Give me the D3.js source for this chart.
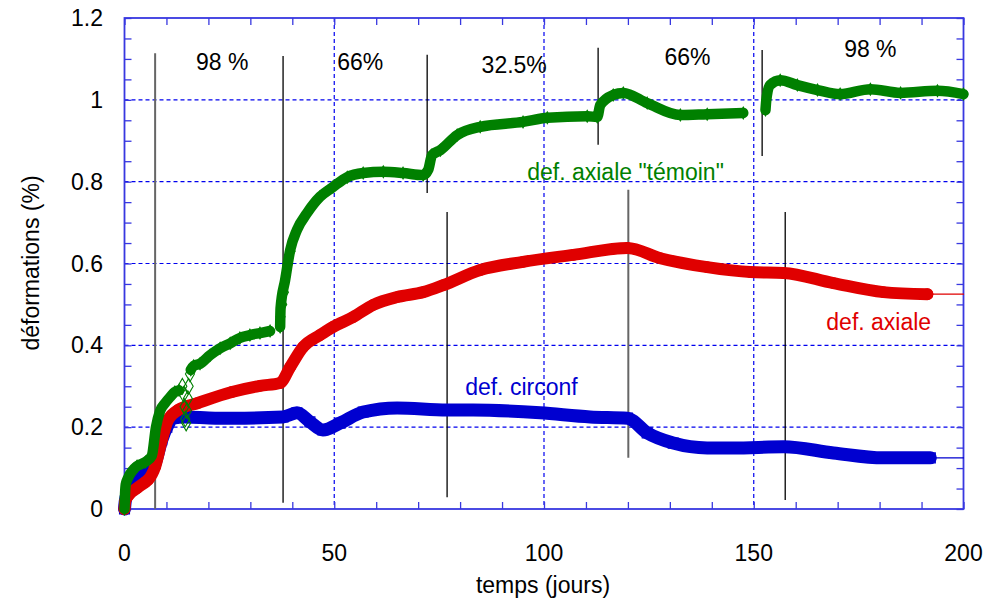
<!DOCTYPE html>
<html><head><meta charset="utf-8">
<script src="https://cdn.jsdelivr.net/npm/d3@7/dist/d3.min.js"></script>
<style>
html,body{margin:0;padding:0;background:#fff;}
text{font-family:"Liberation Sans",Arial,sans-serif;}
</style></head>
<body><svg id="c" width="987" height="599"></svg>
<script>
// ---- data (days, strain %) ----
const xTicks = [0, 50, 100, 150, 200];
const yTicks = [0, 0.2, 0.4, 0.6, 0.8, 1, 1.2];
const yTickLabels = ["0", "0.2", "0.4", "0.6", "0.8", "1", "1.2"];

const greenSeg1a = [[0,0.0],[0.1,0.03],[0.3,0.06],[0.8,0.075],[2,0.095],[3,0.105],[5,0.115],[6.5,0.13],[7.5,0.2],[8.5,0.24],[9.7,0.259],[11,0.275],[12,0.286],[13,0.29]];
const greenSparse = [[13.8,0.3],[14.1,0.28],[14.3,0.25],[14.5,0.22],[14.7,0.21],[14.9,0.24],[15.1,0.27],[15.3,0.3],[15.6,0.33],[37.2,0.47],[37.6,0.5],[38,0.53],[38.5,0.57],[39,0.6],[39.6,0.63]];
const greenSeg1b = [[15.8,0.34],[16.5,0.35],[18,0.355],[20.4,0.376],[22.8,0.393],[25.2,0.405],[27.5,0.418],[29.9,0.425],[32.3,0.43],[34.7,0.435]];
const greenSeg2 = [[37.1,0.445],[37.2,0.49],[38.3,0.56],[39.5,0.633],[41.1,0.682],[43.5,0.723],[46.6,0.763],[49.7,0.787],[53.1,0.811],[56.9,0.821],[61.7,0.824],[66.4,0.821],[71.2,0.816],[72.4,0.829],[73.3,0.865],[75.3,0.877],[79.3,0.914],[84.8,0.934],[95,0.946],[100.8,0.956],[110.3,0.96],[112.7,0.958],[113.4,0.987],[116.5,1.012],[118.9,1.017],[124.6,0.992],[132.5,0.963],[138.9,0.965],[147.5,0.968]];
const greenSeg3 = [[152.8,0.975],[153,1.0],[153.9,1.036],[156.3,1.048],[160.4,1.036],[165.2,1.024],[170.6,1.014],[177.8,1.026],[185,1.017],[193.8,1.022],[200,1.014]];

const redSeries = [[0,0.0],[0.2,0.02],[1,0.034],[3,0.051],[5,0.066],[5.6,0.071],[7.3,0.103],[8.9,0.169],[10.4,0.218],[12.8,0.242],[17.5,0.259],[25.6,0.286],[32.3,0.301],[37.1,0.308],[39.5,0.347],[42.6,0.396],[46.6,0.425],[49.7,0.445],[54.5,0.469],[59.3,0.499],[65,0.518],[71.2,0.53],[76,0.547],[84.8,0.584],[95,0.604],[107,0.621],[119.9,0.638],[127.7,0.613],[138.9,0.591],[149.2,0.579],[157.1,0.577],[169,0.552],[180.9,0.53],[191.4,0.525]];
const redTail = [[191.4,0.525],[200,0.525]];

const blueSeries = [[0,0.0],[0.2,0.02],[1,0.046],[2.5,0.078],[5.6,0.09],[7.3,0.112],[8.9,0.169],[10.1,0.2],[11.6,0.222],[14.4,0.225],[21.6,0.222],[25.9,0.222],[37.8,0.225],[41.1,0.235],[44.2,0.213],[47.3,0.193],[51.4,0.21],[56.9,0.237],[65,0.247],[76.9,0.242],[83.1,0.242],[99.1,0.235],[111,0.225],[119.9,0.222],[124.6,0.186],[130.8,0.161],[138.9,0.149],[145.1,0.149],[157.1,0.152],[169,0.137],[180.9,0.125],[192.1,0.125]];
const blueTail = [[192.1,0.125],[200,0.125]];

// load-change markers: day, strain from, strain to
const changeDays = [7.3, 37.8, 72.15, 76.9, 112.9, 120.1, 152.0, 157.5];
const changeFrom = [0, 0.015, 0.772, 0.029, 0.89, 0.125, 0.863, 0.022];
const changeTo   = [1.114, 1.107, 1.11, 0.726, 1.127, 0.78, 1.122, 0.726];
const changeGray = [true, false, false, false, false, true, false, false];

const loadLabels = ["98 %", "66%", "32.5%", "66%", "98 %"];
const loadDays   = [23.3, 56.2, 92.9, 134.2, 177.8];
const loadLevels = [1.073, 1.073, 1.066, 1.085, 1.105];

const seriesNames = ['def. axiale "témoin"', "def. axiale", "def. circonf"];
const seriesNameDay = [96.0, 167.3, 81.2];
const seriesNameLevel = [0.804, 0.4375, 0.279];

// ---- chart ----
const svg = d3.select("#c");
const L = 124.5, R = 963.5, T = 18, B = 509;
const x = d3.scaleLinear().domain([0,200]).range([L,R]);
const y = d3.scaleLinear().domain([0,1.2]).range([B,T]);
const gridCol = "#0000ee", frameCol = "#3838e0";

// grid
const g = svg.append("g");
g.selectAll(".gx").data(xTicks.slice(1,-1)).join("line")
  .attr("x1",d=>x(d)).attr("x2",d=>x(d)).attr("y1",T).attr("y2",B)
  .attr("stroke",gridCol).attr("stroke-width",1.2).attr("stroke-dasharray","4,3");
g.selectAll(".gy").data(yTicks.slice(1,-1)).join("line")
  .attr("y1",d=>y(d)).attr("y2",d=>y(d)).attr("x1",L).attr("x2",R)
  .attr("stroke",gridCol).attr("stroke-width",1.2).attr("stroke-dasharray","4,3");

// minor ticks via axes (inward)
const xMinor = d3.range(0,201,10), yMinor = d3.range(0,1.2001,0.05);
const axB = d3.axisTop(x).tickValues(xMinor).tickSize(7).tickFormat("");
const axT = d3.axisBottom(x).tickValues(xMinor).tickSize(7).tickFormat("");
const axL = d3.axisRight(y).tickValues(yMinor).tickSize(7).tickFormat("");
const axR = d3.axisLeft(y).tickValues(yMinor).tickSize(7).tickFormat("");
[[axB,`translate(0,${B})`],[axT,`translate(0,${T})`],[axL,`translate(${L},0)`],[axR,`translate(${R},0)`]].forEach(([a,tr])=>{
  const gg = svg.append("g").attr("transform",tr).call(a);
  gg.selectAll("line").attr("stroke",frameCol).attr("stroke-width",1.3);
  gg.select(".domain").remove();
});
svg.append("rect").attr("x",L).attr("y",T).attr("width",R-L).attr("height",B-T)
  .attr("fill","none").attr("stroke",frameCol).attr("stroke-width",1.8);

// tick labels
svg.append("g").selectAll("text").data(xTicks).join("text")
  .attr("x",d=>x(d)).attr("y",561).attr("text-anchor","middle")
  .attr("font-size",23).text(d=>d);
svg.append("g").selectAll("text").data(yTicks).join("text")
  .attr("x",103).attr("y",d=>y(d)+8).attr("text-anchor","end")
  .attr("font-size",23).text((d,i)=>yTickLabels[i]);
svg.append("text").attr("x",543).attr("y",593).attr("text-anchor","middle").attr("font-size",23).text("temps (jours)");
svg.append("text").attr("transform","translate(39,263) rotate(-90)").attr("text-anchor","middle").attr("font-size",23).text("déformations (%)");

// vertical load-change lines
svg.append("g").selectAll("line").data(changeDays).join("line")
  .attr("x1",d=>x(d)).attr("x2",d=>x(d))
  .attr("y1",(d,i)=>y(changeFrom[i])).attr("y2",(d,i)=>y(changeTo[i]))
  .attr("stroke",(d,i)=>changeGray[i]?"#666":"#000").attr("stroke-width",(d,i)=>changeGray[i]?2:1.3);

// series
const line = d3.line().x(d=>x(d[0])).y(d=>y(d[1])).curve(d3.curveMonotoneX);
const green = "#008000", red = "#e00000", blue = "#0000d0";
function band(data, col, w){
  svg.append("path").datum(data).attr("d",line).attr("fill","none")
    .attr("stroke",col).attr("stroke-width",w).attr("stroke-linejoin","round").attr("stroke-linecap","round");
}
function markers(data, col, type, size){
  svg.append("g").selectAll("path").data(data).join("path")
    .attr("transform",d=>`translate(${x(d[0])},${y(d[1])})`)
    .attr("d",d3.symbol().type(type).size(size))
    .attr("fill","none").attr("stroke",col).attr("stroke-width",1.1);
}
band(blueTail, blue, 1.2); band(redTail, red, 1.2);
band(blueSeries, blue, 13); markers(blueSeries, blue, d3.symbolSquare, 100);
band(redSeries, red, 12); markers(redSeries, red, d3.symbolCircle, 90);
[greenSeg1a, greenSeg1b, greenSeg2, greenSeg3].forEach(s=>{ band(s, green, 10.5); markers(s, green, d3.symbolDiamond, 40); });
markers(greenSparse, green, d3.symbolDiamond, 70);

// labels
svg.append("g").selectAll("text").data(loadLabels).join("text")
  .attr("x",(d,i)=>x(loadDays[i])).attr("y",(d,i)=>y(loadLevels[i]))
  .attr("text-anchor","middle").attr("font-size",23).attr("fill","#000").text(d=>d);
const nameCols = [green, red, blue];
svg.append("g").selectAll("text").data(seriesNames).join("text")
  .attr("x",(d,i)=>x(seriesNameDay[i])).attr("y",(d,i)=>y(seriesNameLevel[i]))
  .attr("font-size",23).attr("fill",(d,i)=>nameCols[i]).text(d=>d);
</script></body></html>
